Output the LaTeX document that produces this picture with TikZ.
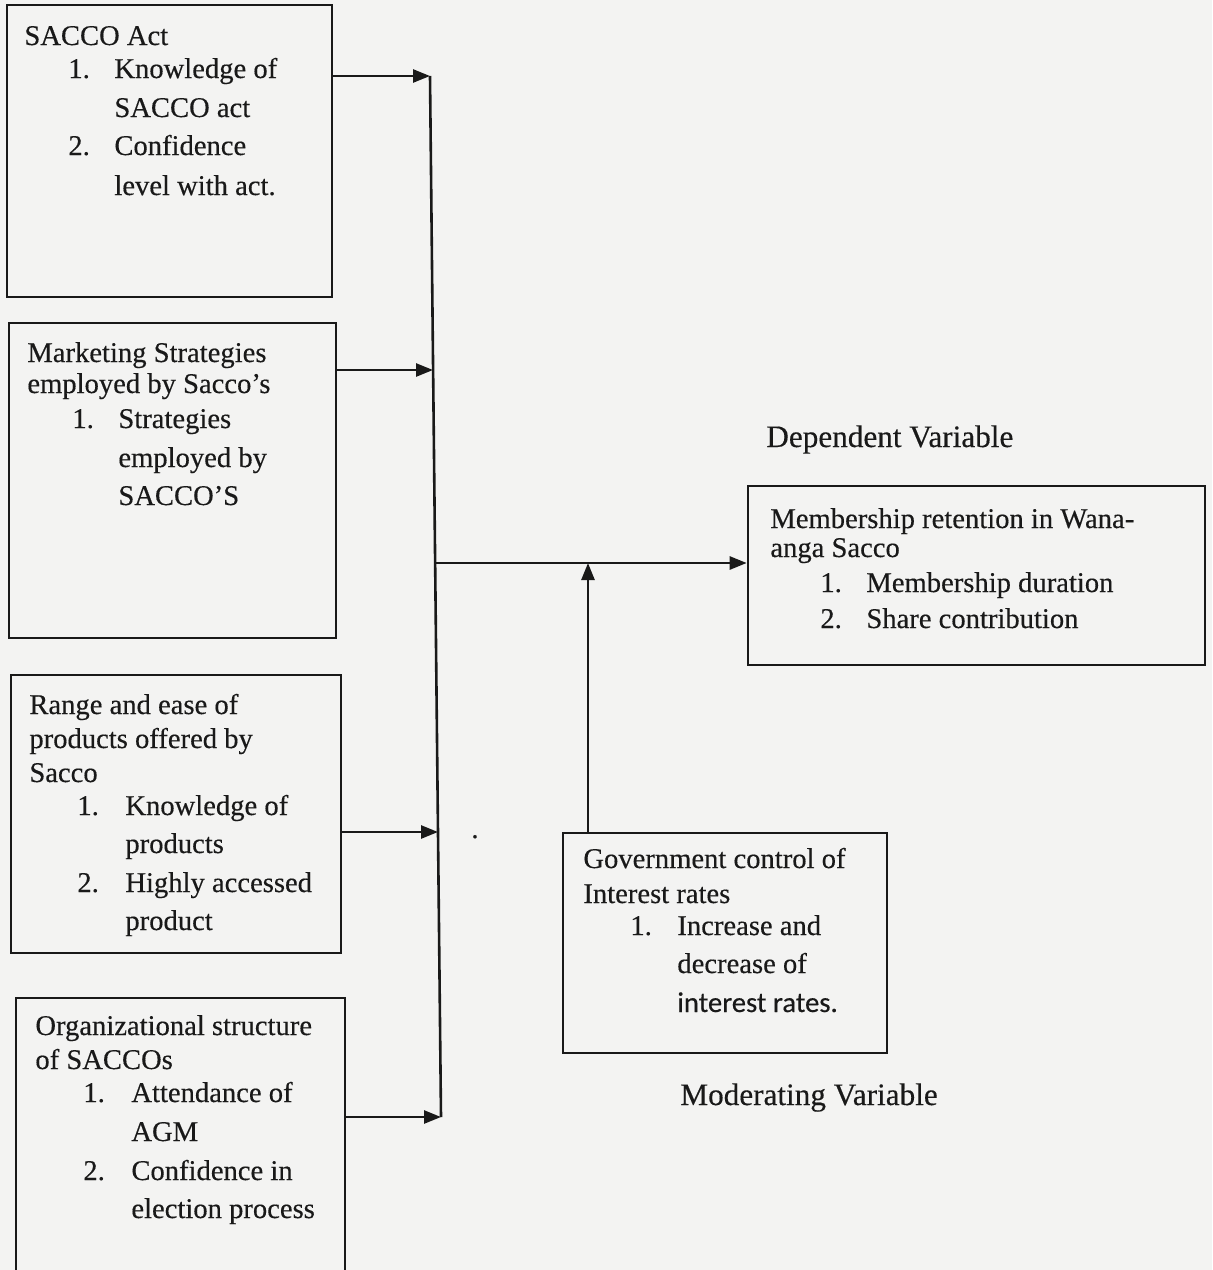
\documentclass[tikz,border=0pt]{standalone}
\usepackage{fontspec}
\setmainfont{Liberation Serif}[UprightFeatures={FakeBold=0.35}]
\newfontfamily\sansfont{Carlito}[UprightFeatures={FakeBold=0.35}]
\usetikzlibrary{arrows.meta,fit}
\definecolor{paper}{RGB}{243,243,242}
\definecolor{ink}{RGB}{25,25,25}
\tikzset{
  txt/.style={anchor=base west, inner sep=0pt, text=ink, font=\fontsize{14.3pt}{16pt}\selectfont},
  lbl/.style={anchor=base west, inner sep=0pt, text=ink, font=\fontsize{15.6pt}{18pt}\selectfont},
  framebox/.style={draw=ink, line width=1.3pt, inner sep=0pt},
  conn/.style={draw=ink, line width=1.3pt},
  arr/.style={conn, -{Triangle[length=8.5pt,width=6.5pt]}},
}
\begin{document}
\begin{tikzpicture}[x=0.5pt,y=-0.5pt]
\useasboundingbox (0,0) rectangle (1212,1270);
\fill[paper] (0,0) rectangle (1212,1270);
\clip (0,0) rectangle (1212,1270);

% boxes
\node[framebox, fit={(7,5) (332,297)}] (b1) {};
\node[framebox, fit={(9,323) (336,638)}] (b2) {};
\node[framebox, fit={(11,675) (341,953)}] (b3) {};
\node[framebox, fit={(16,998) (345,1290)}] (b4) {};
\node[framebox, fit={(748,486) (1205,665)}] (dep) {};
\node[framebox, fit={(563,833) (887,1053)}] (gov) {};

% box 1
\node[txt] (t1a) at (24,45) {SACCO Act};
\node[txt] (t1b) at (68,78) {1.};
\node[txt] (t1c) at (114,78) {Knowledge of};
\node[txt] (t1d) at (114,117) {SACCO act};
\node[txt] (t1e) at (68,155) {2.};
\node[txt] (t1f) at (114,155) {Confidence};
\node[txt] (t1g) at (114,195) {level with act.};

% box 2
\node[txt] (t2a) at (27,362) {Marketing Strategies};
\node[txt] (t2b) at (27,393) {employed by Sacco’s};
\node[txt] (t2c) at (72,428) {1.};
\node[txt] (t2d) at (118,428) {Strategies};
\node[txt] (t2e) at (118,467) {employed by};
\node[txt] (t2f) at (118,505) {SACCO’S};

% box 3
\node[txt] (t3a) at (29,714) {Range and ease of};
\node[txt] (t3b) at (29,748) {products offered by};
\node[txt] (t3c) at (29,782) {Sacco};
\node[txt] (t3d) at (77,815) {1.};
\node[txt] (t3e) at (125,815) {Knowledge of};
\node[txt] (t3f) at (125,853) {products};
\node[txt] (t3g) at (77,892) {2.};
\node[txt] (t3h) at (125,892) {Highly accessed};
\node[txt] (t3i) at (125,930) {product};

% box 4
\node[txt] (t4a) at (35,1035) {Organizational structure};
\node[txt] (t4b) at (35,1069) {of SACCOs};
\node[txt] (t4c) at (83,1102) {1.};
\node[txt] (t4d) at (131,1102) {Attendance of};
\node[txt] (t4e) at (131,1141) {AGM};
\node[txt] (t4f) at (83,1180) {2.};
\node[txt] (t4g) at (131,1180) {Confidence in};
\node[txt] (t4h) at (131,1218) {election process};

% dependent
\node[lbl] (dl) at (766,447) {Dependent Variable};
\node[txt] (d1) at (770,528) {Membership retention in Wana-};
\node[txt] (d2) at (770,557) {anga Sacco};
\node[txt] (d3) at (820,592) {1.};
\node[txt] (d4) at (866,592) {Membership duration};
\node[txt] (d5) at (820,628) {2.};
\node[txt] (d6) at (866,628) {Share contribution};

% moderating
\node[txt] (g1) at (583,868) {Government control of};
\node[txt] (g2) at (583,903) {Interest rates};
\node[txt] (g3) at (630,935) {1.};
\node[txt] (g4) at (677,935) {Increase and};
\node[txt] (g5) at (677,973) {decrease of};
\node[txt, font=\sansfont\fontsize{14.3pt}{16pt}\selectfont] (g6) at (677,1012) {interest rates.};
\node[lbl] (ml) at (680,1105) {Moderating Variable};
\node[txt] (dot) at (471,838) {.};

% connectors
\coordinate (j1) at (430,76);
\coordinate (j2) at (433,370);
\coordinate (jm) at (435,563);
\coordinate (j3) at (438,832);
\coordinate (j4) at (441,1117);
\coordinate (ju) at (588,563);

\draw[conn] (j1) -- (j4);
\draw[arr] (b1.east |- j1) -- (j1);
\draw[arr] (b2.east |- j2) -- (j2);
\draw[arr] (b3.east |- j3) -- (j3);
\draw[arr] (b4.east |- j4) -- (j4);
\draw[arr] (jm) -- (dep.west |- jm);
\draw[arr] (ju |- gov.north) -- (ju);
\end{tikzpicture}
\end{document}
